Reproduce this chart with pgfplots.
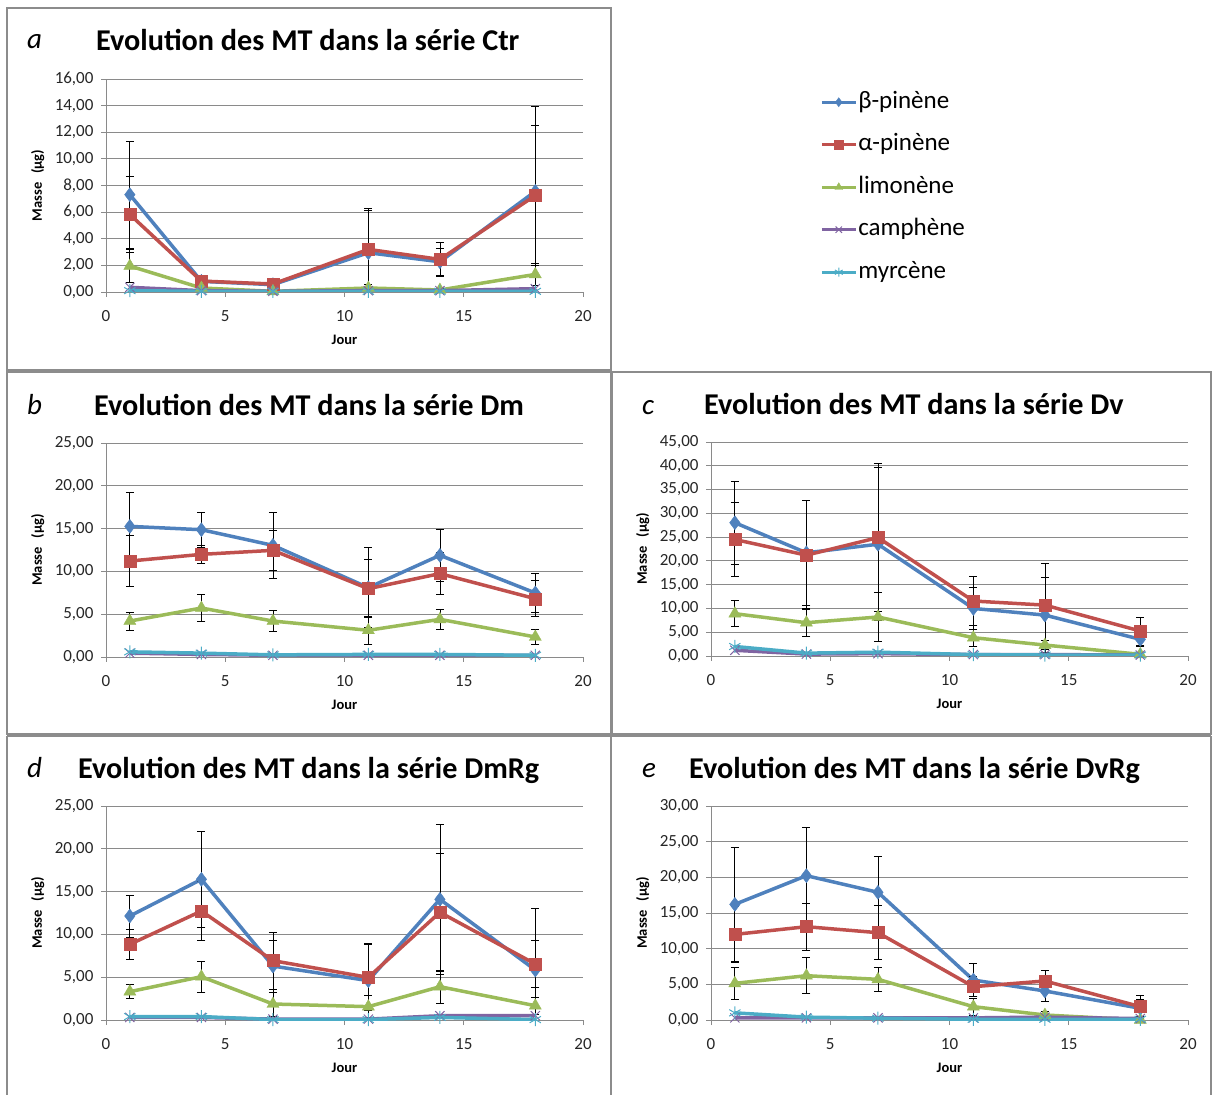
\documentclass[border=0pt]{standalone}
\usepackage{pgfplots}
\pgfplotsset{compat=1.18}
\usepackage{fontspec}
\setmainfont{Carlito}
\definecolor{cblue}{HTML}{4F81BD}
\definecolor{cred}{HTML}{C0504D}
\definecolor{cgreen}{HTML}{9BBB59}
\definecolor{cpurple}{HTML}{8064A2}
\definecolor{ccyan}{HTML}{4BACC6}
\definecolor{frame}{HTML}{8C8C8C}
\definecolor{gridc}{HTML}{8A8A8A}
\pgfplotsset{
  panel/.style={
    scale only axis, width=477pt, height=214pt,
    xmin=0, xmax=20, ymin=0, xtick={0,5,...,20},
    axis lines*=left,
    ymajorgrids, grid style={draw=gridc, line width=0.9pt},
    axis line style={gridc, line width=0.9pt},
    tick style={gridc, line width=0.9pt},
    tick align=outside, major tick length=5pt,
    /pgf/number format/assume math mode=true,
    tick label style={font=\fontsize{17}{19}\selectfont, text=black!85},
    yticklabel style={xshift=-4pt, /pgf/number format/.cd, fixed, fixed zerofill, precision=2, use comma},
    xticklabel style={yshift=-10pt, /pgf/number format/.cd, fixed, precision=0},
    xlabel={Jour}, ylabel={Masse\hspace{0.6em}(µg)},
    label style={font=\fontsize{14.5}{16}\selectfont\bfseries},
    xlabel style={at={(axis description cs:0.5,-0.225)}, anchor=center},
    ylabel style={at={(axis description cs:-0.143,0.5)}, anchor=center},
  },
  eb/.style={error bars/y dir=both, error bars/y explicit,
    error bars/error bar style={black, line width=0.8pt, solid},
    error bars/error mark options={rotate=90, black, mark size=4pt, line width=0.8pt}},
  bp/.style={color=cblue, line width=3.5pt, mark=diamond*, mark size=7pt, mark options={solid, fill=cblue, line width=0.4pt}, eb},
  ap/.style={color=cred, line width=3.5pt, mark=square*, mark size=6pt, mark options={solid, fill=cred, line width=0.4pt}, eb},
  li/.style={color=cgreen, line width=3.5pt, mark=triangle*, mark size=7pt, mark options={solid, fill=cgreen, line width=0.4pt}, eb},
  ca/.style={color=cpurple, line width=3.5pt, mark=x, mark size=6.5pt, mark options={solid, line width=1pt}},
  my/.style={color=ccyan, line width=3.5pt, mark=asterisk, mark size=6.5pt, mark options={solid, line width=1pt}},
}
\begin{document}
\begin{tikzpicture}
\path[use as bounding box] (0,0) rectangle (1212pt,1095pt);
% panel frames
\draw[frame, line width=1.2pt] (7pt,1087pt) rectangle (611pt,725pt);
\draw[frame, line width=1.2pt] (7pt,723pt) rectangle (611pt,361pt);
\draw[frame, line width=1.2pt] (612pt,723pt) rectangle (1211pt,361pt);
\draw[frame, line width=1.2pt] (7pt,359pt) -- (7pt,0pt);
\draw[frame, line width=1.2pt] (7pt,359pt) -- (1211pt,359pt);
\draw[frame, line width=1.2pt] (611pt,359pt) -- (611pt,0pt);
\draw[frame, line width=1.2pt] (1211pt,359pt) -- (1211pt,0pt);
% titles
\begin{scope}[every node/.style={inner sep=0pt, anchor=base west}]
\node at (96pt,1044pt) {\fontsize{30.2}{33}\selectfont\bfseries Evolution des MT dans la série Ctr};
\node at (27pt,1046pt) {\fontsize{29}{32}\selectfont\itshape a};
\node at (94pt,679pt) {\fontsize{30.2}{33}\selectfont\bfseries Evolution des MT dans la série Dm};
\node at (27pt,680pt) {\fontsize{29}{32}\selectfont\itshape b};
\node at (704pt,680pt) {\fontsize{30.2}{33}\selectfont\bfseries Evolution des MT dans la série Dv};
\node at (642pt,680pt) {\fontsize{29}{32}\selectfont\itshape c};
\node at (78pt,316pt) {\fontsize{30.2}{33}\selectfont\bfseries Evolution des MT dans la série DmRg};
\node at (27pt,317pt) {\fontsize{29}{32}\selectfont\itshape d};
\node at (689pt,316pt) {\fontsize{30.2}{33}\selectfont\bfseries Evolution des MT dans la série DvRg};
\node at (642pt,317pt) {\fontsize{29}{32}\selectfont\itshape e};
\end{scope}

% ---------- panel a ----------
\begin{axis}[panel, at={(106pt,803pt)}, anchor=south west, height=213pt,
  ymax=16, ytick={0,2,...,16},
  legend style={at={(axis description cs:1.497,0.953)}, anchor=north west, draw=none, fill=none,
    font=\fontsize{25}{28}\selectfont, row sep=16.5pt, inner sep=0pt,
    nodes={inner sep=1pt, text height=18pt, text depth=6pt}},
  legend cell align=left,
  legend image code/.code={\draw[mark repeat=2, mark phase=2, line width=3pt, mark size=4.5pt] plot coordinates {(0pt,0pt) (17pt,0pt) (34pt,0pt)};},
]
\addplot[bp] table[y error index=2] {
1 7.31 4.0
4 0.80 0.3
7 0.55 0.2
11 2.95 3.3
14 2.27 1.0
18 7.56 6.35
};
\addlegendentry{β-pinène}
\addplot[ap] table[y error index=2] {
1 5.82 2.85
4 0.82 0.3
7 0.60 0.2
11 3.20 2.95
14 2.45 1.3
18 7.25 5.25
};
\addlegendentry{α-pinène}
\addplot[li] table[y error index=2] {
1 1.95 1.25
4 0.30 0.2
7 0.05 0.05
11 0.30 0.3
14 0.15 0.1
18 1.32 0.8
};
\addlegendentry{limonène}
\addplot[ca] table {
1 0.35
4 0.10
7 0.05
11 0.10
14 0.10
18 0.25
};
\addlegendentry{camphène}
\addplot[my] table {
1 0.10
4 0.05
7 0.05
11 0.05
14 0.05
18 0.05
};
\addlegendentry{myrcène}
\end{axis}

% ---------- panel b ----------
\begin{axis}[panel, at={(106pt,438pt)}, anchor=south west,
  ymax=25, ytick={0,5,...,25}]
\addplot[bp] table[y error index=2] {
1 15.26 4.0
4 14.87 2.07
7 13.04 3.9
11 8.10 4.7
14 11.88 3.0
18 7.48 2.26
};
\addplot[ap] table[y error index=2] {
1 11.21 2.95
4 11.99 1.1
7 12.46 2.35
11 7.98 3.4
14 9.74 2.45
18 6.81 2.1
};
\addplot[li] table[y error index=2] {
1 4.20 1.05
4 5.72 1.6
7 4.20 1.25
11 3.12 1.64
14 4.40 1.17
18 2.34 0.85
};
\addplot[ca] table {
1 0.45
4 0.30
7 0.20
11 0.20
14 0.20
18 0.20
};
\addplot[my] table {
1 0.60
4 0.45
7 0.25
11 0.30
14 0.30
18 0.20
};
\end{axis}

% ---------- panel c ----------
\begin{axis}[panel, at={(711pt,439pt)}, anchor=south west,
  ymax=45, ytick={0,5,...,45}]
\addplot[bp] table[y error index=2] {
1 28.03 8.75
4 21.70 11.1
7 23.50 16.1
11 10.00 4.4
14 8.60 7.9
18 3.50 1.4
};
\addplot[ap] table[y error index=2] {
1 24.50 7.8
4 21.20 11.5
7 24.90 15.6
11 11.56 5.2
14 10.70 8.7
18 5.25 2.95
};
\addplot[li] table[y error index=2] {
1 8.90 2.75
4 7.00 2.95
7 8.20 5.1
11 3.85 1.8
14 2.30 1.0
18 0.35 0.3
};
\addplot[ca] table {
1 1.20
4 0.40
7 0.50
11 0.30
14 0.30
18 0.20
};
\addplot[my] table {
1 2.00
4 0.60
7 0.80
11 0.30
14 0.20
18 0.20
};
\end{axis}

% ---------- panel d ----------
\begin{axis}[panel, at={(106pt,75pt)}, anchor=south west,
  ymax=25, ytick={0,5,...,25}]
\addplot[bp] table[y error index=2] {
1 12.15 2.45
4 16.43 5.6
7 6.30 3.05
11 4.60 4.35
14 14.10 8.76
18 5.84 7.2
};
\addplot[ap] table[y error index=2] {
1 8.84 1.8
4 12.73 3.45
7 6.93 3.3
11 4.98 3.9
14 12.58 6.9
18 6.54 2.75
};
\addplot[li] table[y error index=2] {
1 3.31 0.8
4 5.06 1.8
7 1.87 1.4
11 1.56 1.28
14 3.89 1.94
18 1.67 1.0
};
\addplot[ca] table {
1 0.30
4 0.30
7 0.10
11 0.10
14 0.50
18 0.50
};
\addplot[my] table {
1 0.40
4 0.40
7 0.05
11 0.05
14 0.30
18 0.05
};
\end{axis}

% ---------- panel e ----------
\begin{axis}[panel, at={(711pt,75pt)}, anchor=south west,
  ymax=30, ytick={0,5,...,30}]
\addplot[bp] table[y error index=2] {
1 16.21 7.95
4 20.23 6.73
7 17.90 5.0
11 5.60 2.3
14 4.07 1.4
18 1.64 1.2
};
\addplot[ap] table[y error index=2] {
1 12.00 3.9
4 13.08 3.28
7 12.24 3.8
11 4.67 1.4
14 5.47 1.5
18 1.87 1.6
};
\addplot[li] table[y error index=2] {
1 5.14 2.3
4 6.21 2.55
7 5.70 1.7
11 1.87 1.2
14 0.70 0.5
18 0.00 0.05
};
\addplot[ca] table {
1 0.30
4 0.30
7 0.30
11 0.30
14 0.40
18 0.20
};
\addplot[my] table {
1 1.00
4 0.40
7 0.25
11 0.10
14 0.10
18 0.10
};
\end{axis}
\end{tikzpicture}
\end{document}
